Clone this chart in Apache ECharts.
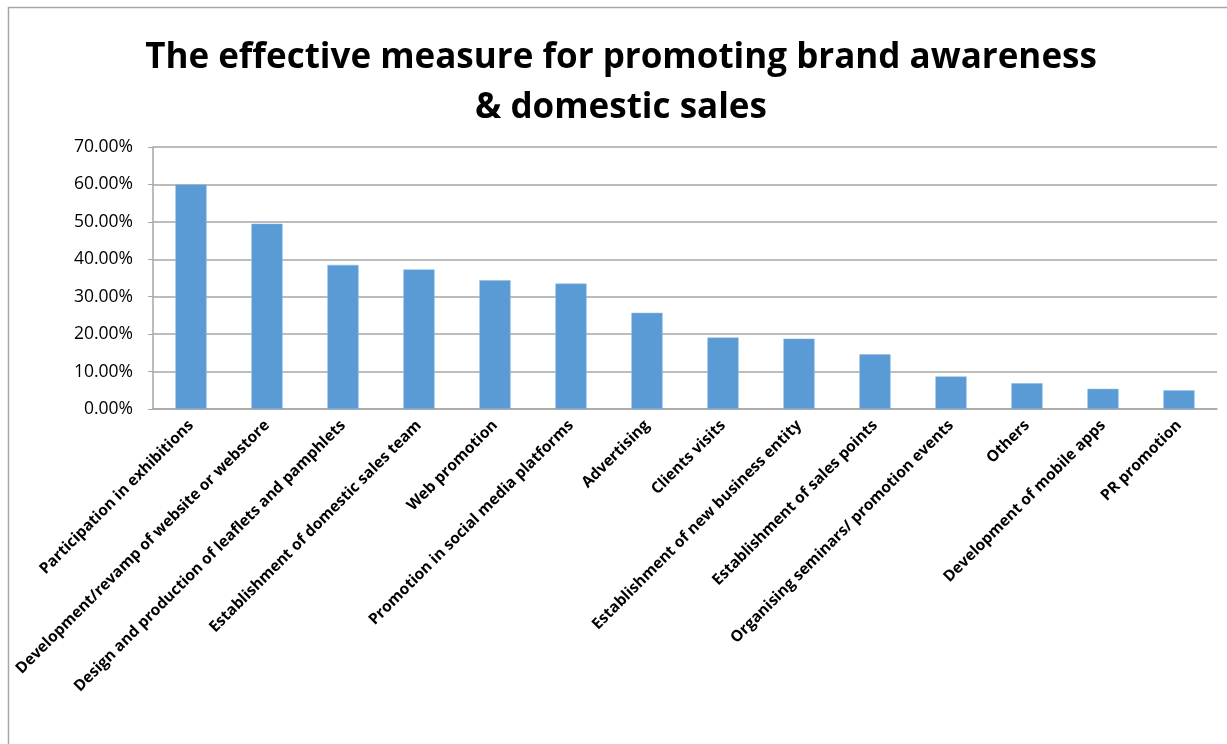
<!DOCTYPE html>
<html>
<head>
<meta charset="utf-8">
<script src="https://cdn.jsdelivr.net/npm/echarts@6/dist/echarts.min.js"></script>
<style>
html,body{margin:0;padding:0;background:#fff;}
#chart{width:1227px;height:744px;}
</style>
</head>
<body>
<div id="chart"></div>
<script>
const categories = [
  "Participation in exhibitions",
  "Development/revamp of website or webstore",
  "Design and production of leaflets and pamphlets",
  "Establishment of domestic sales team",
  "Web promotion",
  "Promotion in social media platforms",
  "Advertising",
  "Clients visits",
  "Establishment of new business entity",
  "Establishment of sales points",
  "Organising seminars/ promotion events",
  "Others",
  "Development of mobile apps",
  "PR promotion"
];
const values = [60.0, 49.5, 38.5, 37.3, 34.4, 33.5, 25.7, 19.1, 18.8, 14.6, 8.7, 6.9, 5.4, 5.0];
const yTicks = { min: 0, max: 70, interval: 10 };
const titleText = "The effective measure for promoting brand awareness\n& domestic sales";

const chart = echarts.init(document.getElementById('chart'));
chart.setOption({
  animation: false,
  backgroundColor: '#ffffff',
  graphic: [{
    type: 'rect',
    shape: { x: 8.5, y: 7.5, width: 1260, height: 800 },
    style: { fill: 'none', stroke: '#a6a6a6', lineWidth: 1.5 },
    silent: true
  }],
  title: {
    text: titleText,
    left: 616,
    top: 28,
    textAlign: 'center',
    textStyle: {
      fontFamily: 'Open Sans',
      fontWeight: 'bold',
      fontSize: 35,
      lineHeight: 50,
      color: '#000'
    }
  },
  grid: { left: 153, top: 147, right: 10, bottom: 335, containLabel: false },
  xAxis: {
    type: 'category',
    data: categories,
    axisLine: { lineStyle: { color: '#a6a6a6', width: 1.5 } },
    axisTick: { show: false },
    axisLabel: {
      interval: 0,
      rotate: 45,
      margin: 14,
      fontFamily: 'Open Sans',
      fontWeight: 'bold',
      fontSize: 15.5,
      color: '#000'
    }
  },
  yAxis: {
    type: 'value',
    min: yTicks.min,
    max: yTicks.max,
    interval: yTicks.interval,
    axisLine: { show: true, lineStyle: { color: '#a6a6a6', width: 1.5 } },
    axisTick: { show: true, length: 5, inside: false, lineStyle: { color: '#a6a6a6' } },
    splitLine: { show: true, lineStyle: { color: '#a6a6a6', width: 1.5 } },
    axisLabel: {
      formatter: v => v.toFixed(2) + '%',
      margin: 20,
      fontFamily: 'Open Sans',
      fontSize: 17.5,
      color: '#000'
    }
  },
  series: [{
    type: 'bar',
    data: values,
    barWidth: '41%',
    itemStyle: { color: '#5b9bd5', borderColor: '#8ab8e3', borderWidth: 0.5 }
  }]
});
</script>
</body>
</html>
